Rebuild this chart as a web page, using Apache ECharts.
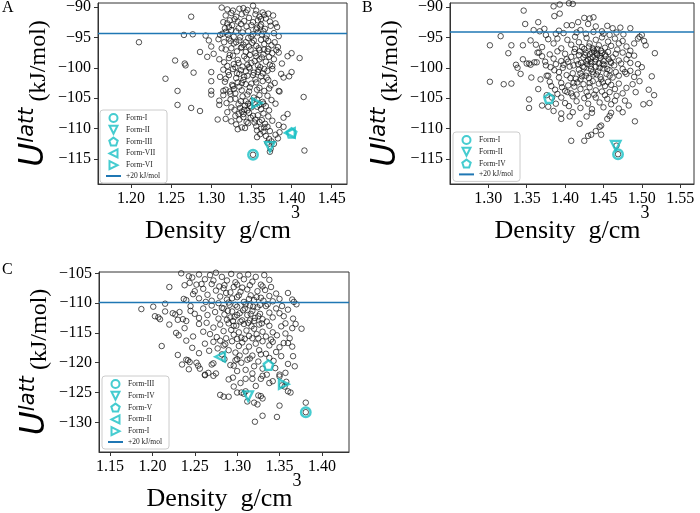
<!DOCTYPE html>
<html><head><meta charset="utf-8">
<script src="https://cdn.jsdelivr.net/npm/echarts@6/dist/echarts.min.js"></script>
<style>html,body{margin:0;padding:0;background:#fff}#c{width:700px;height:513px}</style>
</head><body><div id="c"></div>
<script>
// ---------------- DATA ----------------
const xTicksA = [1.20, 1.25, 1.30, 1.35, 1.40, 1.45];
const xTicksB = [1.30, 1.35, 1.40, 1.45, 1.50, 1.55];
const xTicksC = [1.15, 1.20, 1.25, 1.30, 1.35, 1.40];
const yTicksA = [-90, -95, -100, -105, -110, -115];
const yTicksB = [-90, -95, -100, -105, -110, -115];
const yTicksC = [-105, -110, -115, -120, -125, -130];

const lineLevelA = -94.35;
const lineLevelB = -94.1;
const lineLevelC = -109.9;
const lineLabel = '+20 kJ/mol';

const formNamesA = ['Form-I', 'Form-II', 'Form-III', 'Form-VII', 'Form-VI'];
const formPointsA = [[1.352,-114.3],[1.373,-113.0],[1.400,-110.7],[1.398,-110.7],[1.357,-105.8]];
const formNamesB = ['Form-I', 'Form-II', 'Form-IV'];
const formPointsB = [[1.469,-114.2],[1.466,-112.8],[1.379,-105.0]];
const formNamesC = ['Form-III', 'Form-IV', 'Form-V', 'Form-II', 'Form-I'];
const formPointsC = [[1.381,-128.3],[1.313,-125.6],[1.337,-120.4],[1.280,-119.0],[1.355,-123.6]];

const pointsA = [
[1.313,-90.1],[1.320,-90.4],[1.327,-90.6],[1.335,-90.3],[1.340,-90.2],[1.345,-90.5],[1.352,-89.8],[1.356,-90.6],[1.325,-91.0],[1.318,-91.4],[1.331,-91.6],[1.338,-91.2],[1.347,-91.8],[1.355,-91.2],[1.360,-91.6],[1.366,-91.3],[1.371,-91.1],[1.368,-91.9],[1.362,-92.0],[1.323,-92.2],[1.329,-92.0],[1.341,-92.3],[1.352,-92.5],[1.275,-91.6],
[1.320,-92.7],[1.326,-93.0],[1.333,-92.4],[1.337,-92.8],[1.344,-93.2],[1.350,-93.0],[1.357,-93.4],[1.362,-92.9],[1.367,-93.6],[1.374,-93.1],[1.380,-92.7],[1.382,-93.3],[1.325,-93.8],[1.331,-94.0],[1.339,-94.2],[1.346,-94.0],[1.352,-94.5],[1.358,-94.2],[1.363,-94.5],[1.369,-94.7],[1.378,-94.3],[1.384,-94.8],[1.318,-94.1],[1.314,-94.4],[1.321,-94.6],[1.311,-94.6],[1.266,-94.6],[1.277,-94.5],[1.293,-94.7],[1.334,-93.5],[1.356,-93.7],[1.365,-94.0],
[1.210,-95.8],[1.297,-95.5],[1.309,-95.3],[1.316,-95.8],[1.322,-95.2],[1.328,-96.0],[1.335,-95.5],[1.340,-96.2],[1.346,-95.1],[1.351,-95.9],[1.356,-96.4],[1.362,-95.4],[1.366,-96.1],[1.371,-95.6],[1.375,-96.3],[1.379,-95.8],[1.383,-96.6],[1.318,-97.0],[1.325,-96.8],[1.332,-97.3],[1.337,-96.7],[1.343,-97.4],[1.349,-97.0],[1.355,-97.6],[1.360,-97.1],[1.365,-97.8],[1.370,-97.3],[1.376,-97.6],[1.384,-97.5],[1.300,-96.5],[1.303,-97.7],[1.286,-97.4],[1.395,-98.1],[1.400,-97.6],[1.410,-98.4],[1.331,-95.8],[1.347,-96.5],[1.359,-96.8],[1.371,-96.9],[1.323,-97.9],
[1.255,-98.8],[1.267,-99.3],[1.268,-99.6],[1.295,-98.2],[1.310,-98.6],[1.316,-99.1],[1.322,-98.4],[1.328,-99.4],[1.333,-98.7],[1.339,-99.8],[1.344,-98.5],[1.350,-99.2],[1.354,-98.9],[1.358,-99.6],[1.363,-98.3],[1.368,-99.0],[1.373,-99.5],[1.378,-98.6],[1.388,-99.3],[1.315,-100.3],[1.321,-100.7],[1.327,-100.2],[1.332,-100.9],[1.337,-100.4],[1.343,-100.6],[1.348,-100.1],[1.353,-100.8],[1.359,-100.3],[1.364,-100.9],[1.370,-100.5],[1.376,-100.2],[1.300,-100.7],[1.278,-100.8],[1.400,-100.7],[1.397,-101.4],[1.390,-101.6],[1.330,-99.9],[1.345,-99.5],[1.361,-99.9],[1.356,-98.1],
[1.243,-101.8],[1.258,-103.8],[1.300,-102.2],[1.300,-103.8],[1.311,-101.5],[1.317,-102.3],[1.322,-101.2],[1.326,-102.8],[1.331,-101.7],[1.335,-103.1],[1.340,-102.0],[1.345,-101.3],[1.350,-102.6],[1.355,-101.9],[1.360,-103.3],[1.364,-102.2],[1.369,-101.6],[1.374,-102.9],[1.379,-102.5],[1.384,-103.8],[1.385,-103.9],[1.318,-103.6],[1.323,-103.9],[1.328,-103.5],[1.338,-103.7],[1.347,-103.9],[1.357,-103.6],[1.366,-103.8],[1.315,-103.8],[1.372,-103.4],[1.343,-102.7],[1.352,-101.2],[1.333,-102.4],
[1.300,-104.4],[1.258,-106.1],[1.275,-106.6],[1.310,-105.4],[1.315,-104.5],[1.319,-105.8],[1.324,-104.3],[1.330,-105.1],[1.334,-106.0],[1.339,-104.7],[1.343,-105.5],[1.348,-106.3],[1.353,-104.9],[1.360,-104.5],[1.365,-105.9],[1.370,-104.6],[1.375,-105.3],[1.380,-105.9],[1.415,-104.8],[1.325,-106.5],[1.336,-106.6],[1.341,-106.9],[1.345,-107.0],[1.350,-106.5],[1.357,-106.4],[1.362,-106.8],[1.368,-106.3],[1.372,-107.0],[1.338,-107.2],[1.342,-106.2],[1.310,-106.1],[1.320,-107.3],[1.364,-105.6],
[1.286,-107.1],[1.308,-108.5],[1.318,-108.4],[1.325,-108.8],[1.330,-107.9],[1.335,-108.5],[1.340,-107.6],[1.344,-108.9],[1.349,-108.2],[1.354,-109.0],[1.358,-107.8],[1.363,-108.6],[1.367,-109.2],[1.371,-108.0],[1.376,-108.7],[1.390,-108.2],[1.395,-107.6],[1.390,-109.7],[1.384,-109.4],[1.338,-109.8],[1.342,-109.9],[1.356,-109.6],[1.362,-110.0],[1.370,-109.7],[1.331,-109.3],[1.347,-107.4],[1.360,-108.9],
[1.385,-110.6],[1.365,-110.5],[1.368,-111.2],[1.372,-111.7],[1.375,-112.1],[1.378,-112.5],[1.370,-112.3],[1.374,-113.3],[1.373,-113.8],[1.361,-110.9],[1.357,-111.4],[1.380,-111.0],[1.383,-111.6],[1.416,-113.6],[1.352,-114.3],
[1.322,-93.3],[1.328,-94.9],[1.336,-95.0],[1.343,-95.8],[1.350,-94.9],[1.361,-93.2],[1.348,-97.9],[1.341,-98.1],[1.327,-98.0],[1.360,-98.6],[1.366,-97.0],[1.372,-98.2],[1.335,-101.0],[1.341,-101.5],[1.356,-102.4],[1.362,-101.4],[1.327,-103.0],[1.348,-103.2],[1.330,-104.2],[1.345,-104.4],[1.357,-105.2],[1.337,-105.5],[1.351,-105.4],[1.365,-107.5],[1.352,-107.9],[1.329,-106.9],[1.340,-108.1],[1.357,-110.3],[1.366,-109.8],[1.373,-110.4],[1.333,-110.1],[1.346,-109.1],[1.376,-99.7],[1.371,-102.0],[1.320,-99.7],[1.313,-96.8],[1.317,-93.5],[1.377,-91.4],[1.373,-92.4],[1.358,-92.2],
[1.324,-95.6],[1.338,-96.6],[1.353,-95.5],[1.368,-95.2],[1.334,-99.2],[1.347,-99.9],[1.366,-100.2],[1.318,-101.8],[1.338,-102.5],[1.358,-100.7],[1.324,-105.2],[1.346,-105.9],[1.360,-106.1],[1.334,-107.6],[1.355,-108.5],[1.315,-92.5],[1.343,-90.9],[1.364,-90.9],[1.381,-97.1],[1.387,-101.0]
];

const pointsB = [
[1.346,-90.6],[1.385,-89.9],[1.393,-89.6],[1.405,-89.4],[1.410,-89.5],[1.386,-91.5],[1.393,-91.1],[1.425,-91.8],[1.432,-91.9],[1.437,-91.7],
[1.348,-92.8],[1.365,-92.5],[1.373,-93.6],[1.359,-93.8],[1.367,-94.0],[1.402,-93.0],[1.409,-93.0],[1.392,-93.9],[1.398,-94.3],[1.415,-94.2],[1.420,-93.8],[1.430,-92.8],[1.440,-93.2],[1.448,-94.0],[1.455,-93.1],[1.462,-93.5],[1.472,-93.4],[1.485,-93.5],[1.427,-94.4],[1.437,-94.1],[1.450,-94.4],[1.458,-94.6],[1.417,-92.5],
[1.316,-94.8],[1.302,-96.3],[1.330,-96.3],[1.345,-96.3],[1.355,-95.5],[1.378,-95.3],[1.370,-96.6],[1.385,-96.0],[1.390,-95.2],[1.395,-96.8],[1.403,-95.4],[1.408,-96.2],[1.413,-94.9],[1.418,-95.8],[1.422,-96.6],[1.428,-95.1],[1.432,-96.0],[1.436,-96.8],[1.440,-95.4],[1.444,-96.3],[1.448,-95.0],[1.452,-96.7],[1.456,-95.7],[1.460,-96.4],[1.465,-95.2],[1.470,-96.0],[1.475,-95.6],[1.480,-96.5],[1.490,-96.0],[1.495,-95.2],[1.500,-94.6],[1.503,-95.6],[1.505,-96.3],[1.497,-94.9],[1.442,-96.9],[1.425,-96.9],
[1.326,-97.6],[1.345,-98.6],[1.364,-97.5],[1.366,-97.5],[1.360,-99.1],[1.363,-99.1],[1.336,-99.5],[1.350,-99.3],[1.353,-99.3],[1.355,-99.5],[1.375,-99.6],[1.380,-97.8],[1.385,-98.5],[1.390,-97.3],[1.395,-98.9],[1.400,-97.7],[1.404,-99.0],[1.408,-98.2],[1.412,-97.4],[1.415,-98.8],[1.418,-97.9],[1.421,-99.2],[1.424,-98.3],[1.427,-97.5],[1.430,-98.7],[1.432,-97.8],[1.434,-99.1],[1.436,-98.2],[1.438,-97.3],[1.440,-98.6],[1.442,-97.9],[1.444,-99.3],[1.446,-98.4],[1.448,-97.6],[1.450,-98.9],[1.453,-98.1],[1.456,-97.4],[1.459,-99.0],[1.462,-98.3],[1.466,-97.7],[1.470,-98.8],[1.475,-97.5],[1.480,-98.6],[1.485,-99.2],[1.490,-98.0],[1.495,-99.4],[1.517,-97.6],[1.433,-98.5],[1.439,-99.0],[1.429,-99.4],[1.447,-97.2],[1.437,-97.0],
[1.302,-102.3],[1.338,-100.0],[1.356,-101.6],[1.368,-101.9],[1.376,-101.3],[1.378,-101.3],[1.380,-102.3],[1.386,-100.4],[1.392,-101.6],[1.397,-100.0],[1.402,-101.2],[1.406,-99.8],[1.410,-100.9],[1.414,-101.8],[1.418,-100.3],[1.422,-101.4],[1.425,-99.9],[1.428,-100.8],[1.431,-101.7],[1.434,-100.2],[1.437,-101.1],[1.440,-99.8],[1.443,-100.6],[1.446,-101.5],[1.450,-100.1],[1.454,-101.0],[1.458,-100.4],[1.462,-101.6],[1.466,-100.7],[1.470,-101.3],[1.475,-100.2],[1.480,-101.0],[1.485,-100.5],[1.490,-101.5],[1.495,-100.8],[1.513,-101.4],[1.420,-101.9],[1.447,-101.9],
[1.320,-102.7],[1.330,-102.6],[1.387,-103.6],[1.395,-102.5],[1.400,-103.8],[1.404,-102.9],[1.408,-104.2],[1.412,-103.1],[1.416,-102.4],[1.420,-103.5],[1.424,-102.7],[1.428,-104.0],[1.432,-103.2],[1.436,-102.2],[1.440,-103.7],[1.444,-102.6],[1.448,-103.9],[1.452,-103.0],[1.456,-102.3],[1.460,-102.8],[1.465,-103.5],[1.470,-102.6],[1.475,-104.2],[1.480,-103.3],[1.488,-102.7],[1.509,-103.6],[1.516,-104.5],[1.390,-104.3],[1.415,-104.4],[1.438,-104.4],
[1.353,-105.2],[1.353,-106.6],[1.370,-106.2],[1.378,-106.4],[1.388,-105.9],[1.395,-104.9],[1.400,-105.8],[1.405,-106.3],[1.410,-104.7],[1.415,-105.5],[1.420,-106.6],[1.425,-105.0],[1.430,-105.9],[1.435,-106.8],[1.440,-104.9],[1.445,-105.7],[1.450,-106.5],[1.455,-105.1],[1.460,-106.0],[1.465,-105.4],[1.470,-106.7],[1.502,-106.0],[1.510,-105.8],[1.383,-104.9],[1.430,-104.6],
[1.395,-107.5],[1.395,-108.4],[1.406,-108.0],[1.419,-109.2],[1.428,-108.0],[1.445,-109.7],[1.447,-109.5],[1.455,-108.4],[1.458,-107.9],[1.460,-107.4],[1.475,-107.3],[1.491,-108.8],[1.385,-107.1],[1.410,-107.3],[1.435,-107.4],
[1.408,-112.0],[1.425,-112.0],[1.430,-111.2],[1.434,-111.0],[1.440,-110.4],[1.447,-111.0],[1.467,-112.8],[1.469,-114.2],
[1.413,-96.9],[1.419,-97.3],[1.426,-97.9],[1.431,-96.5],[1.435,-97.5],[1.441,-97.6],[1.445,-98.0],[1.449,-99.4],[1.452,-97.8],[1.457,-98.6],[1.428,-98.9],[1.423,-99.8],[1.433,-99.7],[1.436,-100.7],[1.441,-101.1],[1.445,-100.0],[1.451,-99.5],[1.455,-100.2],[1.460,-99.2],[1.417,-99.4],[1.411,-99.6],[1.427,-101.3],[1.432,-102.5],[1.449,-102.4],[1.458,-101.3],[1.464,-99.6],[1.468,-97.0],[1.473,-99.3],[1.478,-100.7],[1.483,-97.9],
[1.370,-98.1],[1.374,-99.0],[1.381,-99.9],[1.388,-99.4],[1.392,-100.7],[1.398,-99.5],[1.402,-98.6],[1.407,-101.7],[1.411,-102.5],[1.403,-104.0],[1.396,-103.2],[1.382,-103.0],[1.376,-104.5],[1.365,-103.5],[1.342,-101.0],[1.362,-96.2],[1.375,-94.6],[1.388,-94.4],[1.420,-100.9],[1.452,-104.5],[1.458,-104.0],[1.467,-104.6],[1.478,-105.4],[1.483,-106.2],[1.492,-104.0],[1.497,-102.2],[1.500,-99.9],[1.485,-97.2],[1.476,-94.5],[1.467,-94.2]
];

const pointsC = [
[1.234,-105.0],[1.243,-105.5],[1.247,-105.7],[1.255,-105.2],[1.262,-106.0],[1.268,-105.3],[1.275,-104.9],[1.282,-105.6],[1.288,-106.2],[1.293,-105.1],[1.298,-106.5],[1.303,-105.4],[1.308,-106.0],[1.313,-105.2],[1.318,-106.4],[1.322,-105.6],[1.328,-106.9],[1.332,-105.3],[1.338,-106.1],[1.244,-106.6],[1.252,-106.9],[1.270,-106.8],[1.285,-107.0],[1.300,-106.9],[1.315,-107.0],
[1.220,-107.3],[1.238,-107.0],[1.237,-109.3],[1.240,-109.5],[1.250,-108.0],[1.255,-109.2],[1.260,-107.6],[1.265,-108.6],[1.270,-109.6],[1.275,-107.9],[1.280,-108.9],[1.284,-107.5],[1.288,-109.4],[1.292,-108.2],[1.296,-107.3],[1.300,-109.0],[1.304,-108.1],[1.308,-109.8],[1.312,-107.7],[1.316,-108.7],[1.320,-109.5],[1.324,-108.0],[1.328,-109.1],[1.333,-107.8],[1.338,-108.8],[1.342,-109.7],[1.346,-108.4],[1.360,-108.3],[1.365,-109.4],[1.367,-109.8],[1.330,-107.2],[1.290,-109.9],[1.278,-110.0],
[1.187,-111.0],[1.201,-110.6],[1.203,-112.2],[1.207,-112.4],[1.209,-112.7],[1.215,-110.1],[1.215,-111.4],[1.224,-111.7],[1.227,-111.9],[1.232,-111.5],[1.230,-112.8],[1.236,-112.7],[1.240,-113.0],[1.245,-110.5],[1.250,-111.8],[1.255,-112.5],[1.260,-110.9],[1.265,-112.0],[1.270,-110.4],[1.274,-111.5],[1.278,-112.6],[1.282,-110.8],[1.285,-111.9],[1.288,-112.8],[1.291,-110.3],[1.294,-111.4],[1.297,-112.3],[1.300,-110.6],[1.303,-111.7],[1.306,-112.9],[1.309,-110.9],[1.312,-112.0],[1.315,-110.4],[1.318,-111.3],[1.321,-112.5],[1.324,-110.7],[1.327,-111.8],[1.330,-112.7],[1.334,-110.5],[1.338,-111.6],[1.342,-112.4],[1.346,-110.9],[1.350,-111.7],[1.355,-112.2],[1.360,-111.1],[1.366,-112.6],[1.370,-110.2],[1.295,-113.0],[1.315,-112.9],
[1.220,-113.6],[1.228,-115.0],[1.231,-115.4],[1.238,-114.2],[1.248,-115.6],[1.255,-113.5],[1.260,-114.8],[1.264,-113.3],[1.268,-115.2],[1.272,-114.1],[1.276,-115.7],[1.280,-113.6],[1.284,-114.7],[1.287,-115.9],[1.290,-113.4],[1.293,-114.5],[1.296,-115.3],[1.299,-113.8],[1.302,-114.9],[1.305,-115.8],[1.308,-113.5],[1.311,-114.6],[1.314,-115.5],[1.317,-113.9],[1.320,-114.3],[1.323,-115.2],[1.326,-113.6],[1.330,-114.8],[1.334,-115.6],[1.338,-113.8],[1.342,-114.9],[1.347,-115.4],[1.352,-113.9],[1.357,-115.1],[1.365,-114.2],[1.376,-114.3],[1.318,-115.9],[1.309,-116.0],
[1.211,-117.2],[1.230,-118.7],[1.240,-116.3],[1.247,-117.5],[1.255,-118.4],[1.262,-116.8],[1.267,-118.0],[1.272,-116.5],[1.277,-117.6],[1.282,-118.6],[1.286,-116.9],[1.290,-117.9],[1.294,-116.4],[1.298,-118.3],[1.302,-117.2],[1.306,-116.6],[1.310,-118.1],[1.314,-117.3],[1.318,-118.8],[1.322,-116.8],[1.326,-117.9],[1.330,-116.4],[1.334,-118.5],[1.338,-117.1],[1.342,-116.5],[1.346,-118.2],[1.350,-117.4],[1.355,-116.7],[1.360,-116.7],[1.365,-117.3],[1.366,-118.9],[1.352,-118.9],[1.328,-118.6],
[1.235,-120.3],[1.240,-119.5],[1.242,-119.6],[1.244,-119.9],[1.243,-121.1],[1.252,-120.0],[1.254,-120.5],[1.256,-121.0],[1.262,-122.0],[1.266,-121.7],[1.270,-120.3],[1.272,-120.1],[1.275,-121.8],[1.285,-119.4],[1.292,-120.4],[1.296,-120.5],[1.298,-119.6],[1.300,-119.4],[1.300,-121.4],[1.310,-121.2],[1.305,-120.0],[1.315,-119.3],[1.320,-120.6],[1.325,-119.8],[1.330,-121.0],[1.335,-122.0],[1.343,-119.7],[1.345,-120.9],[1.350,-122.0],[1.357,-121.7],[1.360,-120.2],[1.368,-120.6],[1.318,-121.8],[1.338,-119.2],
[1.262,-122.1],[1.272,-122.2],[1.290,-122.8],[1.295,-122.5],[1.296,-124.0],[1.310,-122.7],[1.318,-122.7],[1.328,-122.7],[1.330,-122.2],[1.338,-123.4],[1.342,-123.1],[1.350,-122.3],[1.353,-123.8],[1.356,-124.0],[1.358,-123.2],[1.360,-124.8],[1.304,-123.4],[1.310,-124.8],[1.322,-123.9],[1.300,-125.0],[1.363,-125.0],
[1.280,-125.4],[1.284,-125.7],[1.290,-125.7],[1.305,-125.0],[1.308,-125.2],[1.312,-126.5],[1.320,-126.7],[1.321,-129.9],[1.325,-125.5],[1.328,-125.6],[1.330,-126.0],[1.330,-128.9],[1.324,-127.0],[1.350,-127.2],[1.347,-129.1],[1.381,-126.7],[1.381,-128.3],
[1.272,-106.2],[1.279,-107.2],[1.287,-108.3],[1.294,-109.2],[1.298,-110.3],[1.302,-108.7],[1.306,-107.4],[1.310,-110.2],[1.314,-109.3],[1.319,-110.6],[1.323,-109.0],[1.327,-110.3],[1.331,-109.6],[1.336,-110.2],[1.340,-107.3],[1.350,-109.3],[1.284,-110.9],[1.289,-111.3],[1.292,-112.4],[1.296,-113.8],[1.300,-112.0],[1.304,-113.1],[1.307,-111.2],[1.313,-113.3],[1.316,-111.8],[1.320,-113.0],[1.325,-112.2],[1.329,-113.4],[1.335,-113.1],[1.280,-116.3],[1.284,-117.1],[1.300,-116.0],[1.303,-118.8],[1.312,-119.5],[1.325,-115.9],[1.340,-116.1],[1.258,-106.8],[1.248,-108.5],[1.245,-111.3],[1.263,-109.8],[1.353,-110.5],[1.357,-113.4],[1.362,-115.9],[1.369,-113.5]
];

// ---------------- STYLE / BUILD ----------------
const CYAN = '#17bfc4';
// marker shapes, in legend order: circle, down-triangle, pentagon, left-triangle, right-triangle
const SHAPES = [
  'circle',
  'path://M-1,-1L1,-1L0,1Z',
  'path://M0,-10L9.511,-3.09L5.878,8.09L-5.878,8.09L-9.511,-3.09Z',
  'path://M-1,0L1,-1L1,1Z',
  'path://M1,0L-1,-1L-1,1Z'
];
const SERIF = 'Liberation Serif';

const panels = [
  {key:'A', grid:{left:98, top:3, width:249, height:181}, xmin:1.159, xmax:1.469, ymin:-119.1, ymax:-89.35,
   xt:xTicksA, yt:yTicksA, pts:pointsA, fn:formNamesA, fp:formPointsA, lvl:lineLevelA,
   legend:{left:100, top:110}, title:{left:2, top:0}},
  {key:'B', grid:{left:450, top:3, width:244, height:181}, xmin:1.250, xmax:1.568, ymin:-119.1, ymax:-89.35,
   xt:xTicksB, yt:yTicksB, pts:pointsB, fn:formNamesB, fp:formPointsB, lvl:lineLevelB,
   legend:{left:453, top:132}, title:{left:362, top:0}},
  {key:'C', grid:{left:99, top:272, width:250, height:180}, xmin:1.137, xmax:1.432, ymin:-134.98, ymax:-104.78,
   xt:xTicksC, yt:yTicksC, pts:pointsC, fn:formNamesC, fp:formPointsC, lvl:lineLevelC,
   legend:{left:102, top:376}, title:{left:2, top:262}}
];

const grids = [], xAxes = [], yAxes = [], series = [], legends = [], titles = [];
panels.forEach((p, i) => {
  grids.push(Object.assign({show:true, borderColor:'#333', borderWidth:1, backgroundColor:'transparent',
    containLabel:false, outerBoundsMode:'none'}, p.grid));
  xAxes.push({
    type:'value', gridIndex:i, min:p.xmin, max:p.xmax,
    axisLine:{show:true, onZero:false, lineStyle:{color:'#333', width:1}},
    axisTick:{show:true, inside:false, length:4, lineStyle:{color:'#333'}, customValues:p.xt},
    axisLabel:{customValues:p.xt, formatter:v => v.toFixed(2), fontFamily:SERIF, fontSize:16, color:'#000', margin:7},
    splitLine:{show:false},
    name:'{d|Density  g/cm}{s|3}', nameLocation:'middle', nameGap:20, nameMoveOverlap:false,
    nameTextStyle:{rich:{
      d:{fontFamily:SERIF, fontSize:26, color:'#000', lineHeight:40, verticalAlign:'bottom'},
      s:{fontFamily:SERIF, fontSize:18, color:'#000', lineHeight:18, verticalAlign:'top'}
    }}
  });
  yAxes.push({
    type:'value', gridIndex:i, min:p.ymin, max:p.ymax,
    axisLine:{show:true, onZero:false, lineStyle:{color:'#333', width:1}},
    axisTick:{show:true, inside:false, length:4, lineStyle:{color:'#333'}, customValues:p.yt},
    axisLabel:{customValues:p.yt, formatter:v => (v < 0 ? '\u2212' : '') + Math.abs(v), fontFamily:SERIF, fontSize:16, color:'#000', margin:7},
    splitLine:{show:false},
    name:'{u|U}{s|latt}{p| (kJ/mol)}', nameLocation:'middle', nameRotate:90, nameGap:47, nameMoveOverlap:false,
    nameTextStyle:{rich:{
      u:{fontFamily:'DejaVu Sans', fontStyle:'italic', fontSize:33, color:'#000', lineHeight:34, verticalAlign:'bottom'},
      s:{fontFamily:'DejaVu Sans', fontStyle:'italic', fontSize:21, color:'#000', lineHeight:31, verticalAlign:'top'},
      p:{fontFamily:SERIF, fontSize:24, color:'#000', lineHeight:29, verticalAlign:'bottom'}
    }}
  });
  titles.push({text:p.key, left:p.title.left, top:p.title.top, padding:0,
    textStyle:{fontFamily:SERIF, fontSize:16, fontWeight:'normal', color:'#000'}});

  // black candidate structures
  series.push({
    type:'scatter', name:p.key + ':pts', xAxisIndex:i, yAxisIndex:i, data:p.pts,
    symbol:'circle', symbolSize:5.5, silent:true, z:2,
    itemStyle:{color:'rgba(0,0,0,0)', borderColor:'#111', borderWidth:0.9},
    emphasis:{disabled:true}
  });
  // +20 kJ/mol line
  const lineName = p.key + ':' + lineLabel;
  series.push({
    type:'line', name:lineName, xAxisIndex:i, yAxisIndex:i,
    data:[[p.xmin, p.lvl],[p.xmax, p.lvl]], symbol:'none', silent:true, z:3,
    lineStyle:{color:'#1f77b4', width:1.5}, itemStyle:{color:'#1f77b4'},
    emphasis:{disabled:true}
  });
  // experimental forms
  const legendData = [];
  p.fn.forEach((fname, k) => {
    const nm = p.key + ':' + fname;
    legendData.push({name:nm});
    series.push({
      type:'scatter', name:nm, xAxisIndex:i, yAxisIndex:i, data:[p.fp[k]],
      symbol:SHAPES[k], symbolSize:9.5, silent:true, z:5,
      itemStyle:{color:'rgba(255,255,255,0)', borderColor:CYAN, borderWidth:2.4},
      emphasis:{disabled:true}
    });
  });
  legendData.push({name:lineName, itemStyle:{opacity:0}});
  legends.push({
    data:legendData, orient:'vertical', left:p.legend.left, top:p.legend.top,
    itemWidth:15, itemHeight:8, itemGap:1.8, padding:[3,7,3,5],
    backgroundColor:'rgba(255,255,255,0.85)', borderColor:'#cccccc', borderWidth:1, borderRadius:3,
    selectedMode:false,
    formatter:n => n.slice(n.indexOf(':') + 1),
    textStyle:{fontFamily:SERIF, fontSize:7.5, color:'#222'}
  });
});

const chart = echarts.init(document.getElementById('c'), null, {renderer:'canvas'});
chart.setOption({
  animation:false, backgroundColor:'#fff',
  title:titles, grid:grids, xAxis:xAxes, yAxis:yAxes, legend:legends, series:series
});
</script></body></html>
